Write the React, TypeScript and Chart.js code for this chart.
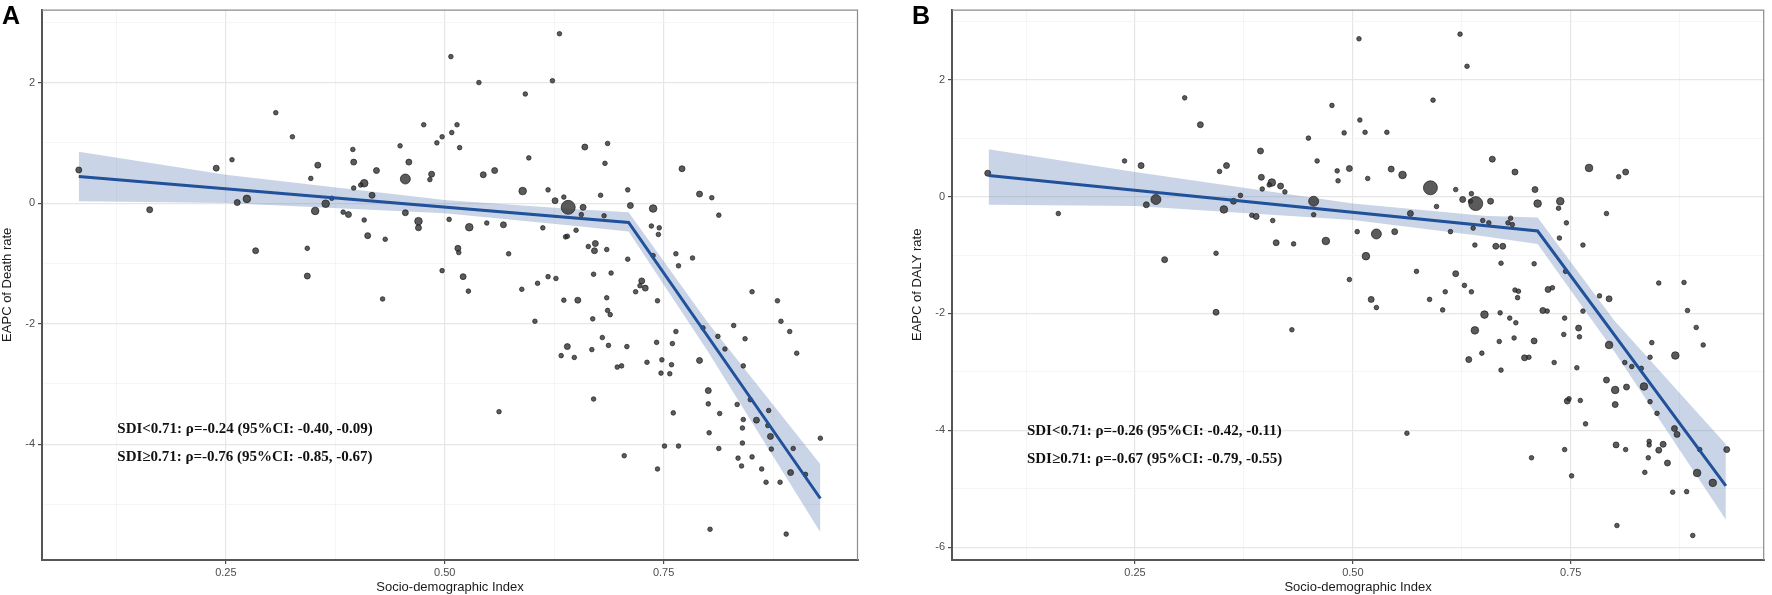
import { useEffect, useRef } from "react";
import { Chart, registerables } from "chart.js";

Chart.register(...registerables);

// [SDI, EAPC, population class 1..5]
type Pt = [number, number, number];

const deathPoints: Pt[] = [
  [0.082, 0.55, 2], [0.163, -0.11, 2], [0.307, 1.5, 1], [0.326, 1.1, 1], [0.257, 0.72, 1],
  [0.239, 0.58, 2], [0.263, 0.01, 2], [0.274, 0.07, 3], [0.284, -0.79, 2], [0.343, -0.75, 1],
  [0.343, -1.21, 2], [0.347, 0.41, 1], [0.355, 0.63, 2], [0.352, -0.13, 3], [0.364, -0.01, 3],
  [0.371, 0.08, 1], [0.395, 0.89, 1], [0.396, 0.68, 2], [0.396, 0.25, 1], [0.408, 0.33, 3],
  [0.404, 0.3, 1], [0.417, 0.13, 2], [0.422, 0.54, 2], [0.384, -0.15, 1], [0.39, -0.19, 2],
  [0.408, -0.28, 1], [0.412, -0.54, 2], [0.432, -0.6, 1], [0.429, -1.59, 1], [0.449, 0.95, 1],
  [0.459, 0.68, 2], [0.455, 0.4, 4], [0.476, 1.3, 1], [0.491, 1.0, 1], [0.497, 1.1, 1],
  [0.485, 0.48, 2], [0.483, 0.39, 1], [0.455, -0.16, 2], [0.47, -0.3, 3], [0.47, -0.41, 2],
  [0.497, -1.12, 1], [0.505, -0.27, 1],
  [0.631, 2.81, 1], [0.507, 2.43, 1], [0.539, 2.0, 1], [0.623, 2.03, 1], [0.592, 1.81, 1],
  [0.508, 1.17, 1], [0.514, 1.3, 1], [0.517, 0.92, 1], [0.596, 0.75, 1], [0.544, 0.47, 2],
  [0.557, 0.54, 2], [0.66, 0.93, 2], [0.686, 0.99, 1], [0.683, 0.66, 1], [0.589, 0.2, 3],
  [0.618, 0.22, 1], [0.626, 0.04, 2], [0.636, 0.1, 1], [0.641, -0.07, 5], [0.658, -0.07, 2],
  [0.656, -0.19, 1], [0.678, 0.13, 1], [0.709, 0.22, 1], [0.712, -0.04, 2], [0.738, -0.09, 3],
  [0.771, 0.57, 2], [0.791, 0.15, 2], [0.805, 0.09, 1], [0.813, -0.2, 1], [0.682, -0.21, 1],
  [0.528, -0.4, 3], [0.548, -0.33, 1], [0.567, -0.36, 2], [0.612, -0.41, 1], [0.65, -0.45, 1],
  [0.638, -0.56, 1], [0.64, -0.55, 1], [0.664, -0.72, 1], [0.672, -0.67, 2], [0.671, -0.79, 2],
  [0.685, -0.77, 1], [0.736, -0.38, 1], [0.745, -0.41, 1], [0.744, -0.52, 1], [0.709, -0.93, 1],
  [0.764, -0.84, 1], [0.783, -0.91, 1], [0.767, -1.04, 1], [0.515, -0.75, 2], [0.516, -0.82, 1],
  [0.573, -0.84, 1], [0.521, -1.22, 2], [0.527, -1.46, 1], [0.588, -1.43, 1], [0.606, -1.33, 1],
  [0.618, -1.22, 1], [0.627, -1.25, 1], [0.67, -1.18, 1], [0.69, -1.16, 1], [0.725, -1.29, 2],
  [0.723, -1.37, 1], [0.729, -1.41, 2], [0.718, -1.47, 1], [0.636, -1.61, 1], [0.652, -1.61, 2],
  [0.685, -1.57, 1], [0.743, -1.62, 1], [0.851, -1.47, 1], [0.88, -1.62, 1], [0.738, -0.87, 1],
  [0.603, -1.96, 1], [0.669, -1.92, 1], [0.686, -1.78, 1], [0.689, -1.85, 1], [0.764, -2.13, 1],
  [0.795, -2.07, 1], [0.83, -2.03, 1], [0.884, -1.96, 1], [0.894, -2.13, 1], [0.902, -2.49, 1],
  [0.68, -2.23, 1], [0.64, -2.38, 2], [0.633, -2.53, 1], [0.648, -2.56, 1], [0.668, -2.43, 1],
  [0.687, -2.36, 1], [0.708, -2.38, 1], [0.697, -2.72, 1], [0.702, -2.7, 1], [0.731, -2.64, 1],
  [0.742, -2.31, 1], [0.748, -2.6, 1], [0.76, -2.33, 1], [0.759, -2.68, 1], [0.747, -2.82, 1],
  [0.757, -2.83, 1], [0.812, -2.21, 1], [0.82, -2.42, 1], [0.843, -2.25, 1], [0.841, -2.7, 1],
  [0.791, -2.61, 2], [0.67, -3.25, 1], [0.562, -3.46, 1], [0.761, -3.48, 1], [0.801, -3.11, 2],
  [0.801, -3.33, 1], [0.814, -3.49, 1], [0.834, -3.34, 1], [0.849, -3.26, 1], [0.841, -3.59, 1],
  [0.84, -3.73, 1], [0.856, -3.6, 2], [0.87, -3.44, 1], [0.869, -3.69, 1], [0.872, -3.87, 2],
  [0.873, -4.08, 1], [0.898, -4.07, 1], [0.929, -3.9, 1], [0.802, -3.81, 1], [0.813, -4.07, 1],
  [0.84, -3.98, 1], [0.751, -4.03, 1], [0.767, -4.03, 1], [0.705, -4.19, 1], [0.743, -4.41, 1],
  [0.835, -4.23, 1], [0.839, -4.36, 1], [0.851, -4.21, 1], [0.862, -4.41, 1], [0.867, -4.63, 1],
  [0.883, -4.63, 1], [0.895, -4.47, 2], [0.912, -4.5, 1], [0.803, -5.41, 1], [0.89, -5.49, 1],
];

const dalyPoints: Pt[] = [
  [0.081, 0.4, 2], [0.162, -0.29, 1], [0.238, 0.61, 1], [0.257, 0.53, 2], [0.263, -0.14, 2],
  [0.274, -0.05, 4], [0.284, -1.08, 2], [0.307, 1.69, 1], [0.325, 1.23, 2], [0.347, 0.43, 1],
  [0.355, 0.53, 2], [0.352, -0.22, 3], [0.363, -0.08, 2], [0.371, 0.02, 1], [0.343, -0.97, 1],
  [0.394, 0.78, 2], [0.395, 0.33, 2], [0.396, 0.13, 1], [0.407, 0.24, 3], [0.404, 0.2, 1],
  [0.417, 0.18, 2], [0.422, 0.08, 1], [0.384, -0.32, 1], [0.389, -0.34, 2], [0.408, -0.41, 1],
  [0.412, -0.79, 2], [0.432, -0.81, 1], [0.469, -0.76, 3], [0.449, 1.0, 1], [0.459, 0.61, 1],
  [0.455, -0.08, 4], [0.455, -0.31, 1], [0.476, 1.56, 1], [0.482, 0.44, 1], [0.343, -1.98, 2],
  [0.43, -2.28, 1],
  [0.483, 0.27, 1], [0.496, 0.48, 2], [0.507, 2.7, 1], [0.508, 1.31, 1], [0.49, 1.09, 1],
  [0.514, 1.1, 1], [0.539, 1.1, 1], [0.517, 0.31, 1], [0.544, 0.47, 2], [0.557, 0.37, 3],
  [0.592, 1.65, 1], [0.623, 2.78, 1], [0.631, 2.23, 1], [0.589, 0.15, 5], [0.618, 0.12, 1],
  [0.626, -0.05, 2], [0.635, -0.08, 1], [0.636, 0.05, 1], [0.641, -0.12, 5], [0.658, -0.08, 2],
  [0.66, 0.64, 2], [0.686, 0.42, 2], [0.709, 0.12, 2], [0.712, -0.12, 3], [0.738, -0.08, 3],
  [0.736, -0.2, 1], [0.771, 0.49, 3], [0.805, 0.34, 1], [0.813, 0.42, 2], [0.791, -0.29, 1],
  [0.745, -0.45, 1], [0.764, -0.83, 1], [0.737, -0.71, 1], [0.708, -1.15, 1], [0.744, -1.28, 1],
  [0.566, -0.29, 2], [0.596, -0.17, 1], [0.612, -0.6, 1], [0.638, -0.54, 1], [0.649, -0.41, 1],
  [0.656, -0.45, 1], [0.681, -0.37, 1], [0.683, -0.48, 1], [0.678, -0.45, 1], [0.505, -0.6, 1],
  [0.527, -0.64, 4], [0.548, -0.6, 2], [0.515, -1.02, 3], [0.64, -0.83, 1], [0.664, -0.85, 2],
  [0.672, -0.85, 2], [0.67, -1.14, 1], [0.496, -1.42, 1], [0.521, -1.76, 2], [0.573, -1.28, 1],
  [0.588, -1.76, 1], [0.606, -1.63, 1], [0.618, -1.32, 2], [0.628, -1.52, 1], [0.636, -1.63, 1],
  [0.686, -1.6, 1], [0.689, -1.73, 1], [0.69, -1.62, 1], [0.724, -1.59, 2], [0.729, -1.56, 1],
  [0.783, -1.7, 1], [0.794, -1.75, 2], [0.851, -1.48, 1], [0.88, -1.47, 1],
  [0.527, -1.9, 1], [0.603, -1.94, 1], [0.562, -4.05, 1], [0.651, -2.02, 3], [0.669, -1.99, 1],
  [0.68, -2.08, 1], [0.687, -2.16, 1], [0.64, -2.29, 3], [0.633, -2.79, 2], [0.648, -2.68, 1],
  [0.668, -2.48, 1], [0.685, -2.42, 1], [0.67, -2.97, 1], [0.708, -2.47, 2], [0.697, -2.76, 2],
  [0.702, -2.75, 1], [0.718, -1.95, 2], [0.723, -1.96, 1], [0.731, -2.84, 1], [0.743, -2.08, 1],
  [0.742, -2.36, 1], [0.764, -1.96, 1], [0.759, -2.25, 2], [0.76, -2.4, 1], [0.757, -2.93, 1],
  [0.794, -2.54, 3], [0.884, -1.95, 1], [0.894, -2.24, 1], [0.902, -2.54, 1], [0.843, -2.5, 1],
  [0.841, -2.75, 1], [0.87, -2.72, 3], [0.812, -2.84, 1], [0.82, -2.91, 1], [0.831, -2.94, 1],
  [0.791, -3.14, 2], [0.801, -3.31, 3], [0.814, -3.26, 2], [0.834, -3.25, 3], [0.801, -3.56, 2],
  [0.841, -3.51, 1], [0.849, -3.71, 1], [0.746, -3.5, 2], [0.748, -3.46, 1], [0.761, -3.49, 1],
  [0.767, -3.89, 1], [0.869, -3.97, 2], [0.872, -4.07, 2], [0.84, -4.19, 1], [0.84, -4.25, 1],
  [0.856, -4.24, 2], [0.851, -4.34, 2], [0.839, -4.47, 1], [0.861, -4.56, 2], [0.802, -4.25, 2],
  [0.813, -4.33, 1], [0.743, -4.33, 1], [0.705, -4.47, 1], [0.751, -4.78, 1], [0.835, -4.72, 1],
  [0.867, -5.06, 1], [0.883, -5.05, 1], [0.895, -4.73, 3], [0.913, -4.9, 3], [0.898, -4.33, 1],
  [0.929, -4.33, 2], [0.803, -5.63, 1], [0.89, -5.8, 1],
];

// segmented fit + 95% band
const deathFitX = [0.082, 0.71, 0.929];
const deathFitY = [0.44, -0.32, -4.9];
const deathBandX = [0.082, 0.25, 0.5, 0.65, 0.71, 0.8, 0.929];
const deathBandUpper = [0.85, 0.47, 0.05, -0.1, -0.15, -1.97, -4.33];
const deathBandLower = [0.03, 0.0, -0.17, -0.38, -0.47, -2.45, -5.46];

const dalyFitX = [0.082, 0.712, 0.928];
const dalyFitY = [0.36, -0.59, -4.95];
const dalyBandX = [0.082, 0.25, 0.5, 0.65, 0.712, 0.8, 0.928];
const dalyBandUpper = [0.81, 0.42, -0.12, -0.33, -0.36, -2.12, -4.24];
const dalyBandLower = [-0.14, -0.16, -0.4, -0.68, -0.81, -2.65, -5.53];

const xMajor = [0.25, 0.5, 0.75];
const xMinor = [0.125, 0.375, 0.625, 0.875];
const deathYMajor = [-4, -2, 0, 2];
const deathYMinor = [-5, -3, -1, 1, 3];
const dalyYMajor = [-6, -4, -2, 0, 2];
const dalyYMinor = [-5, -3, -1, 1, 3];

const deathStats = [
  "SDI<0.71: ρ=-0.24 (95%CI: -0.40, -0.09)",
  "SDI≥0.71: ρ=-0.76 (95%CI: -0.85, -0.67)",
];
const dalyStats = [
  "SDI<0.71: ρ=-0.26 (95%CI: -0.42, -0.11)",
  "SDI≥0.71: ρ=-0.67 (95%CI: -0.79, -0.55)",
];

const RADIUS = [0, 2.3, 3, 3.8, 5, 7];
const SANS = '"Liberation Sans", Arial, sans-serif';

type PanelProps = {
  points: Pt[];
  fitX: number[];
  fitY: number[];
  bandX: number[];
  bandUpper: number[];
  bandLower: number[];
  yMajor: number[];
  yMinor: number[];
  yMin: number;
  yMax: number;
  yTitle: string;
  stats: string[];
  statsY: number;
  left: number;
  width: number;
  padRight: number;
};

function SegmentPanel(p: PanelProps) {
  const canvasRef = useRef<HTMLCanvasElement | null>(null);

  useEffect(() => {
    if (!canvasRef.current) return;
    const tickList = (major: number[], minor: number[]) =>
      [...major, ...minor].sort((a, b) => a - b).map((value) => ({ value }));

    const gridStyle = (major: number[]) => ({
      color: (c: any) => (major.includes(c.tick?.value) ? "#e6e6e6" : "#f3f3f3"),
      lineWidth: (c: any) => (major.includes(c.tick?.value) ? 1.2 : 0.8),
      tickColor: (c: any) => (major.includes(c.tick?.value) ? "#4d4d4d" : "rgba(0,0,0,0)"),
      tickLength: 4,
    });

    const panelPlugin = {
      id: "panelDecor",
      afterDatasetsDraw(chart: any) {
        const { ctx, scales } = chart;
        ctx.save();
        ctx.font = 'bold 15px "Liberation Serif", "Times New Roman", serif';
        ctx.fillStyle = "#111";
        ctx.textBaseline = "middle";
        const x0 = scales.x.getPixelForValue(0.126);
        const y0 = scales.y.getPixelForValue(p.statsY);
        p.stats.forEach((s, i) => ctx.fillText(s, x0, y0 + i * 28));
        ctx.restore();
      },
      afterDraw(chart: any) {
        const { ctx, chartArea } = chart;
        ctx.save();
        ctx.strokeStyle = "#8c8c8c";
        ctx.lineWidth = 1.2;
        ctx.beginPath();
        ctx.moveTo(chartArea.left, chartArea.top + 0.5);
        ctx.lineTo(chartArea.right - 0.5, chartArea.top + 0.5);
        ctx.lineTo(chartArea.right - 0.5, chartArea.bottom);
        ctx.stroke();
        ctx.restore();
      },
    };

    const chart = new Chart(canvasRef.current, {
      type: "scatter",
      data: {
        datasets: [
          {
            type: "line",
            data: p.fitX.map((x, i) => ({ x, y: p.fitY[i] })),
            borderColor: "#22519b",
            borderWidth: 3,
            pointRadius: 0,
            order: 0,
          },
          {
            type: "scatter",
            data: p.points.map((q) => ({ x: q[0], y: q[1] })),
            pointRadius: p.points.map((q) => RADIUS[q[2]]),
            backgroundColor: "rgba(50,50,50,0.8)",
            borderColor: "rgba(25,25,25,0.85)",
            borderWidth: 0.8,
            order: 1,
          },
          {
            type: "line",
            data: p.bandX.map((x, i) => ({ x, y: p.bandUpper[i] })),
            borderColor: "rgba(0,0,0,0)",
            borderWidth: 0,
            pointRadius: 0,
            backgroundColor: "rgba(100,135,185,0.35)",
            fill: "+1",
            order: 2,
          },
          {
            type: "line",
            data: p.bandX.map((x, i) => ({ x, y: p.bandLower[i] })),
            borderColor: "rgba(0,0,0,0)",
            borderWidth: 0,
            pointRadius: 0,
            fill: false,
            order: 3,
          },
        ],
      } as any,
      options: {
        animation: false,
        responsive: false,
        layout: { padding: { top: 3, right: p.padRight, left: 0, bottom: 0 } },
        plugins: { legend: { display: false }, tooltip: { enabled: false } },
        scales: {
          x: {
            type: "linear",
            min: 0.04,
            max: 0.972,
            afterBuildTicks: (s: any) => {
              s.ticks = tickList(xMajor, xMinor);
            },
            afterFit: (s: any) => {
              s.height = 35;
            },
            grid: gridStyle(xMajor),
            border: { color: "#555", width: 2 },
            ticks: {
              autoSkip: false,
              maxRotation: 0,
              padding: 2,
              color: "#4d4d4d",
              font: { family: SANS, size: 11 },
              callback: (v: any) => (xMajor.includes(v) ? Number(v).toFixed(2) : ""),
            },
            title: {
              display: true,
              text: "Socio-demographic Index",
              color: "#1a1a1a",
              font: { family: SANS, size: 13 },
              padding: { top: 0, bottom: 0 },
            },
          },
          y: {
            type: "linear",
            min: p.yMin,
            max: p.yMax,
            afterBuildTicks: (s: any) => {
              s.ticks = tickList(p.yMajor, p.yMinor);
            },
            afterFit: (s: any) => {
              s.width = 42;
            },
            grid: gridStyle(p.yMajor),
            border: { color: "#555", width: 2 },
            ticks: {
              autoSkip: false,
              padding: 3,
              color: "#4d4d4d",
              font: { family: SANS, size: 11 },
              callback: (v: any) => (p.yMajor.includes(v) ? String(v) : ""),
            },
            title: {
              display: true,
              text: p.yTitle,
              color: "#1a1a1a",
              font: { family: SANS, size: 13 },
              padding: { top: 0, bottom: 0 },
            },
          },
        },
      } as any,
      plugins: [panelPlugin],
    });

    return () => chart.destroy();
  }, [p]);

  return (
    <canvas
      ref={canvasRef}
      width={p.width}
      height={595}
      style={{ position: "absolute", left: p.left, top: 0, width: p.width, height: 595 }}
    />
  );
}

const labelStyle = {
  position: "absolute" as const,
  top: 3,
  fontFamily: SANS,
  fontWeight: 700,
  fontSize: 25,
  lineHeight: "25px",
  color: "#000",
};

const deathPanel: PanelProps = {
  points: deathPoints,
  fitX: deathFitX,
  fitY: deathFitY,
  bandX: deathBandX,
  bandUpper: deathBandUpper,
  bandLower: deathBandLower,
  yMajor: deathYMajor,
  yMinor: deathYMinor,
  yMin: -5.92,
  yMax: 3.21,
  yTitle: "EAPC of Death rate",
  stats: deathStats,
  statsY: -3.75,
  left: 0,
  width: 872,
  padRight: 14,
};

const dalyPanel: PanelProps = {
  points: dalyPoints,
  fitX: dalyFitX,
  fitY: dalyFitY,
  bandX: dalyBandX,
  bandUpper: dalyBandUpper,
  bandLower: dalyBandLower,
  yMajor: dalyYMajor,
  yMinor: dalyYMinor,
  yMin: -6.22,
  yMax: 3.2,
  yTitle: "EAPC of DALY rate",
  stats: dalyStats,
  statsY: -4.02,
  left: 910,
  width: 862,
  padRight: 5,
};

export default function App() {
  return (
    <div style={{ position: "absolute", left: 0, top: 0, width: 1772, height: 595, background: "#fff" }}>
      <SegmentPanel {...deathPanel} />
      <SegmentPanel {...dalyPanel} />
      <div style={{ ...labelStyle, left: 2 }}>A</div>
      <div style={{ ...labelStyle, left: 912 }}>B</div>
    </div>
  );
}
